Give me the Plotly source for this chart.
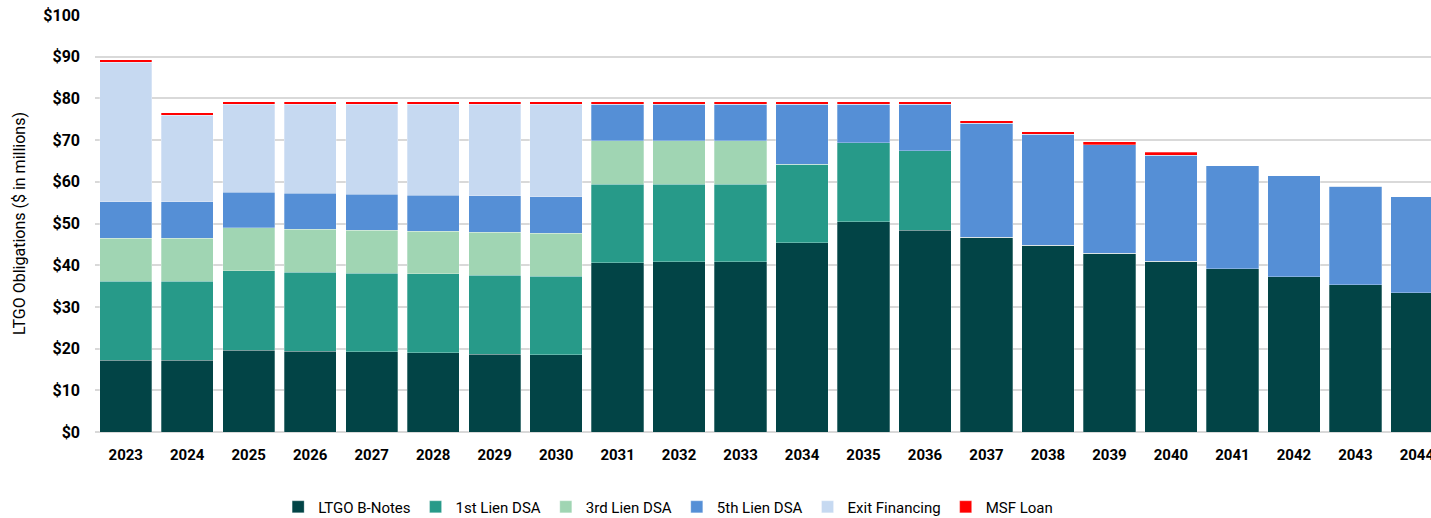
import plotly.graph_objects as go

years = ["2023", "2024", "2025", "2026", "2027", "2028", "2029", "2030", "2031", "2032", "2033",
         "2034", "2035", "2036", "2037", "2038", "2039", "2040", "2041", "2042", "2043", "2044"]

ltgo_b_notes = [17.2, 17.2, 19.6, 19.4, 19.2, 19.0, 18.7, 18.5, 40.6, 40.8, 40.8,
                45.4, 50.4, 48.4, 46.7, 44.8, 42.9, 41.0, 39.1, 37.2, 35.3, 33.4]
lien1_dsa = [18.9, 18.9, 19.1, 18.9, 18.9, 18.9, 18.9, 18.9, 18.8, 18.6, 18.6,
             18.8, 19.0, 19.1, 0, 0, 0, 0, 0, 0, 0, 0]
lien3_dsa = [10.4, 10.4, 10.3, 10.3, 10.3, 10.3, 10.3, 10.3, 10.5, 10.5, 10.5,
             0, 0, 0, 0, 0, 0, 0, 0, 0, 0, 0]
lien5_dsa = [8.7, 8.7, 8.5, 8.7, 8.6, 8.6, 8.7, 8.7, 8.7, 8.7, 8.7,
             14.4, 9.2, 11.1, 27.4, 26.6, 26.0, 25.4, 24.7, 24.2, 23.6, 23.0]
exit_financing = [33.5, 20.8, 21.1, 21.3, 21.6, 21.8, 22.0, 22.2, 0, 0, 0,
                  0, 0, 0, 0, 0, 0, 0, 0, 0, 0, 0]
msf_loan = [0.6, 0.6, 0.6, 0.6, 0.6, 0.6, 0.6, 0.6, 0.6, 0.6, 0.6,
            0.6, 0.6, 0.6, 0.6, 0.6, 0.7, 0.7, 0, 0, 0, 0]

series = [
    ("LTGO B-Notes", ltgo_b_notes, "#024446"),
    ("1st Lien DSA", lien1_dsa, "#279A89"),
    ("3rd Lien DSA", lien3_dsa, "#A0D5B3"),
    ("5th Lien DSA", lien5_dsa, "#558FD6"),
    ("Exit Financing", exit_financing, "#C6D9F1"),
    ("MSF Loan", msf_loan, "#FF0000"),
]

FONT = "Roboto"

fig = go.Figure()
for name, vals, color in series:
    fig.add_trace(go.Bar(
        x=years, y=vals, name=name,
        marker=dict(color=color, line=dict(color="rgba(255,255,255,0.35)", width=0.8)),
        hovertemplate="%{x}: $%{y}M<extra>" + name + "</extra>",
    ))

fig.update_layout(
    barmode="stack",
    bargap=0.15,
    width=1431, height=518,
    margin=dict(l=95, r=0, t=15, b=86, autoexpand=False),
    paper_bgcolor="white",
    plot_bgcolor="white",
    font=dict(family=FONT, color="#000000"),
    showlegend=True,
    legend=dict(
        orientation="h",
        x=0.429, xanchor="center",
        y=-0.18, yanchor="middle",
        font=dict(family=FONT, size=15, color="#000000"),
        traceorder="normal",
        itemwidth=30,
        tracegroupgap=0,
    ),
    xaxis=dict(
        type="category",
        range=[-0.5, 21.23],
        automargin=False,
        showgrid=False,
        showline=False,
        ticks="",
        tickfont=dict(family=FONT, size=15, color="#000000", weight="bold"),
        ticklabelstandoff=12,
    ),
    yaxis=dict(
        range=[0, 100],
        dtick=10,
        tickprefix="$",
        automargin=False,
        showgrid=True,
        gridcolor="#D9D9D9",
        gridwidth=1.5,
        zeroline=True,
        zerolinecolor="#D9D9D9",
        zerolinewidth=1.5,
        showline=False,
        ticks="",
        tickfont=dict(family=FONT, size=16, color="#000000", weight="bold"),
        ticklabelstandoff=14,
        title=dict(text="LTGO Obligations ($ in millions)",
                   font=dict(family=FONT, size=16, color="#000000"),
                   standoff=13),
    ),
)

fig.write_html("out.html")
